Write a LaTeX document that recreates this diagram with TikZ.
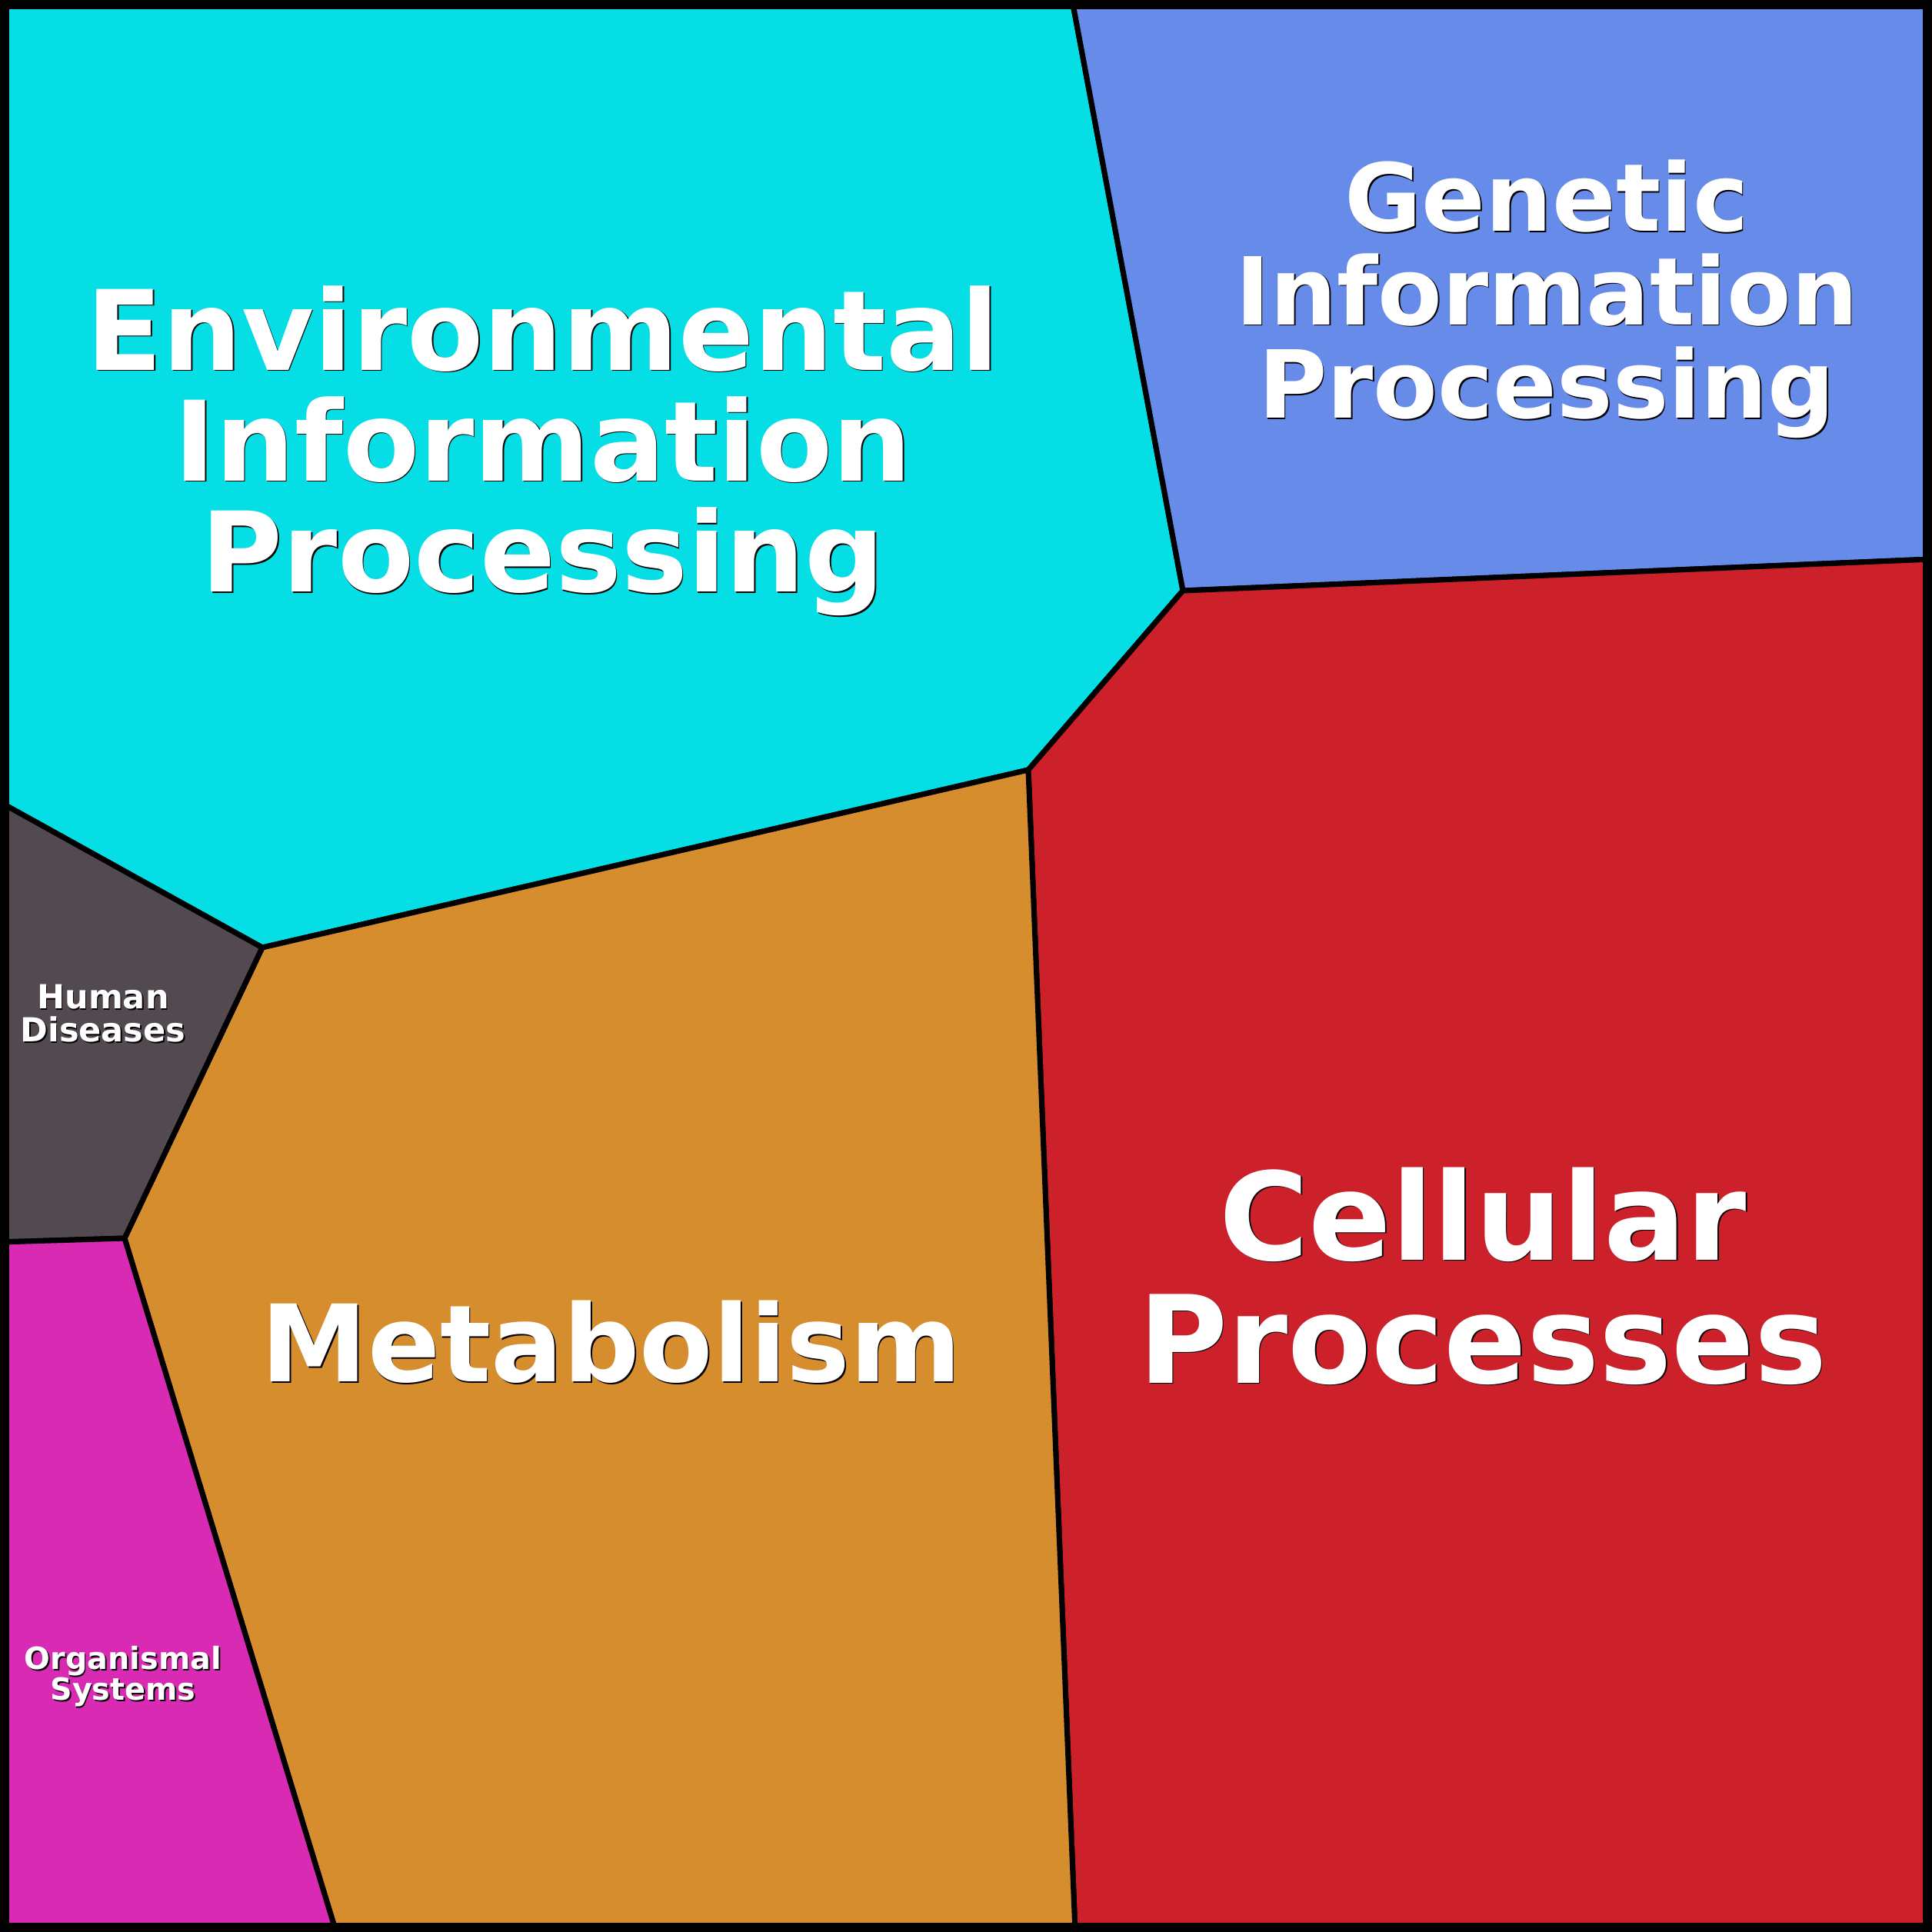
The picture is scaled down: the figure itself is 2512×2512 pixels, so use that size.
\documentclass[tikz,border=0pt]{standalone}
\usepackage{fontspec}
\usepackage{tikz}
\newfontfamily\catfont{DejaVu Sans}[BoldFont={DejaVu Sans Bold}]

\definecolor{envcol}{HTML}{05DEE5}
\definecolor{gencol}{HTML}{678BE8}
\definecolor{cellcol}{HTML}{CC202B}
\definecolor{metcol}{HTML}{D68D2E}
\definecolor{humcol}{HTML}{524A50}
\definecolor{orgcol}{HTML}{D82AB2}

\tikzset{
	cell/.style={draw=black, line width=2pt, line join=round},
	labeltext/.style={text=white, align=center, inner sep=0pt},
	labelshadow/.style={labeltext, text=black},
}

% name, x,y, size, skip, text
\newcommand{\catlabel}[5]{%
	\node[labelshadow, font=\catfont\bfseries\fontsize{#3}{#4}\selectfont] (#1-s) at ([shift={(1.6,1.6)}]#2) {#5};
	\node[labeltext, font=\catfont\bfseries\fontsize{#3}{#4}\selectfont] (#1) at (#2) {#5};
}

\begin{document}
\begin{tikzpicture}[x=0.01cm, y=-0.01cm]
	\useasboundingbox (0,0) rectangle (2512,2512);
	% corners of the cells
	\coordinate (tl) at (0,0);
	\coordinate (tr) at (2512,0);
	\coordinate (br) at (2512,2512);
	\coordinate (bl) at (0,2512);
	\coordinate (eg) at (1394,0);
	\coordinate (egc) at (1538,768);
	\coordinate (gc) at (2512,727);
	\coordinate (emc) at (1337,1001);
	\coordinate (mc) at (1398,2512);
	\coordinate (emh) at (341,1232);
	\coordinate (eh) at (0,1043);
	\coordinate (hmo) at (162,1610);
	\coordinate (ho) at (0,1615);
	\coordinate (mo) at (437,2512);

	\filldraw[cell, fill=envcol] (tl) -- (eg) -- (egc) -- (emc) -- (emh) -- (eh) -- cycle;
	\filldraw[cell, fill=gencol] (eg) -- (tr) -- (gc) -- (egc) -- cycle;
	\filldraw[cell, fill=cellcol] (egc) -- (gc) -- (br) -- (mc) -- (emc) -- cycle;
	\filldraw[cell, fill=metcol] (emc) -- (mc) -- (mo) -- (hmo) -- (emh) -- cycle;
	\filldraw[cell, fill=humcol] (eh) -- (emh) -- (hmo) -- (ho) -- cycle;
	\filldraw[cell, fill=orgcol] (ho) -- (hmo) -- (mo) -- (bl) -- cycle;
	\draw[line width=3.4pt] (6,6) rectangle (2506,2506);

	\catlabel{env}{706,586}{41.1}{41}{Environmental\\Information\\Processing}
	\catlabel{gen}{2011,389}{34.7}{34.6}{Genetic\\Information\\Processing}
	\catlabel{cel}{1928,1659}{45.1}{45.5}{Cellular\\Processes}
	\catlabel{met}{795,1745}{39.5}{40}{Metabolism}
	\catlabel{hum}{134,1318}{12.25}{12.2}{Human\\Diseases}
	\catlabel{org}{160,2180}{11.3}{11.4}{Organismal\\Systems}
\end{tikzpicture}
\end{document}
